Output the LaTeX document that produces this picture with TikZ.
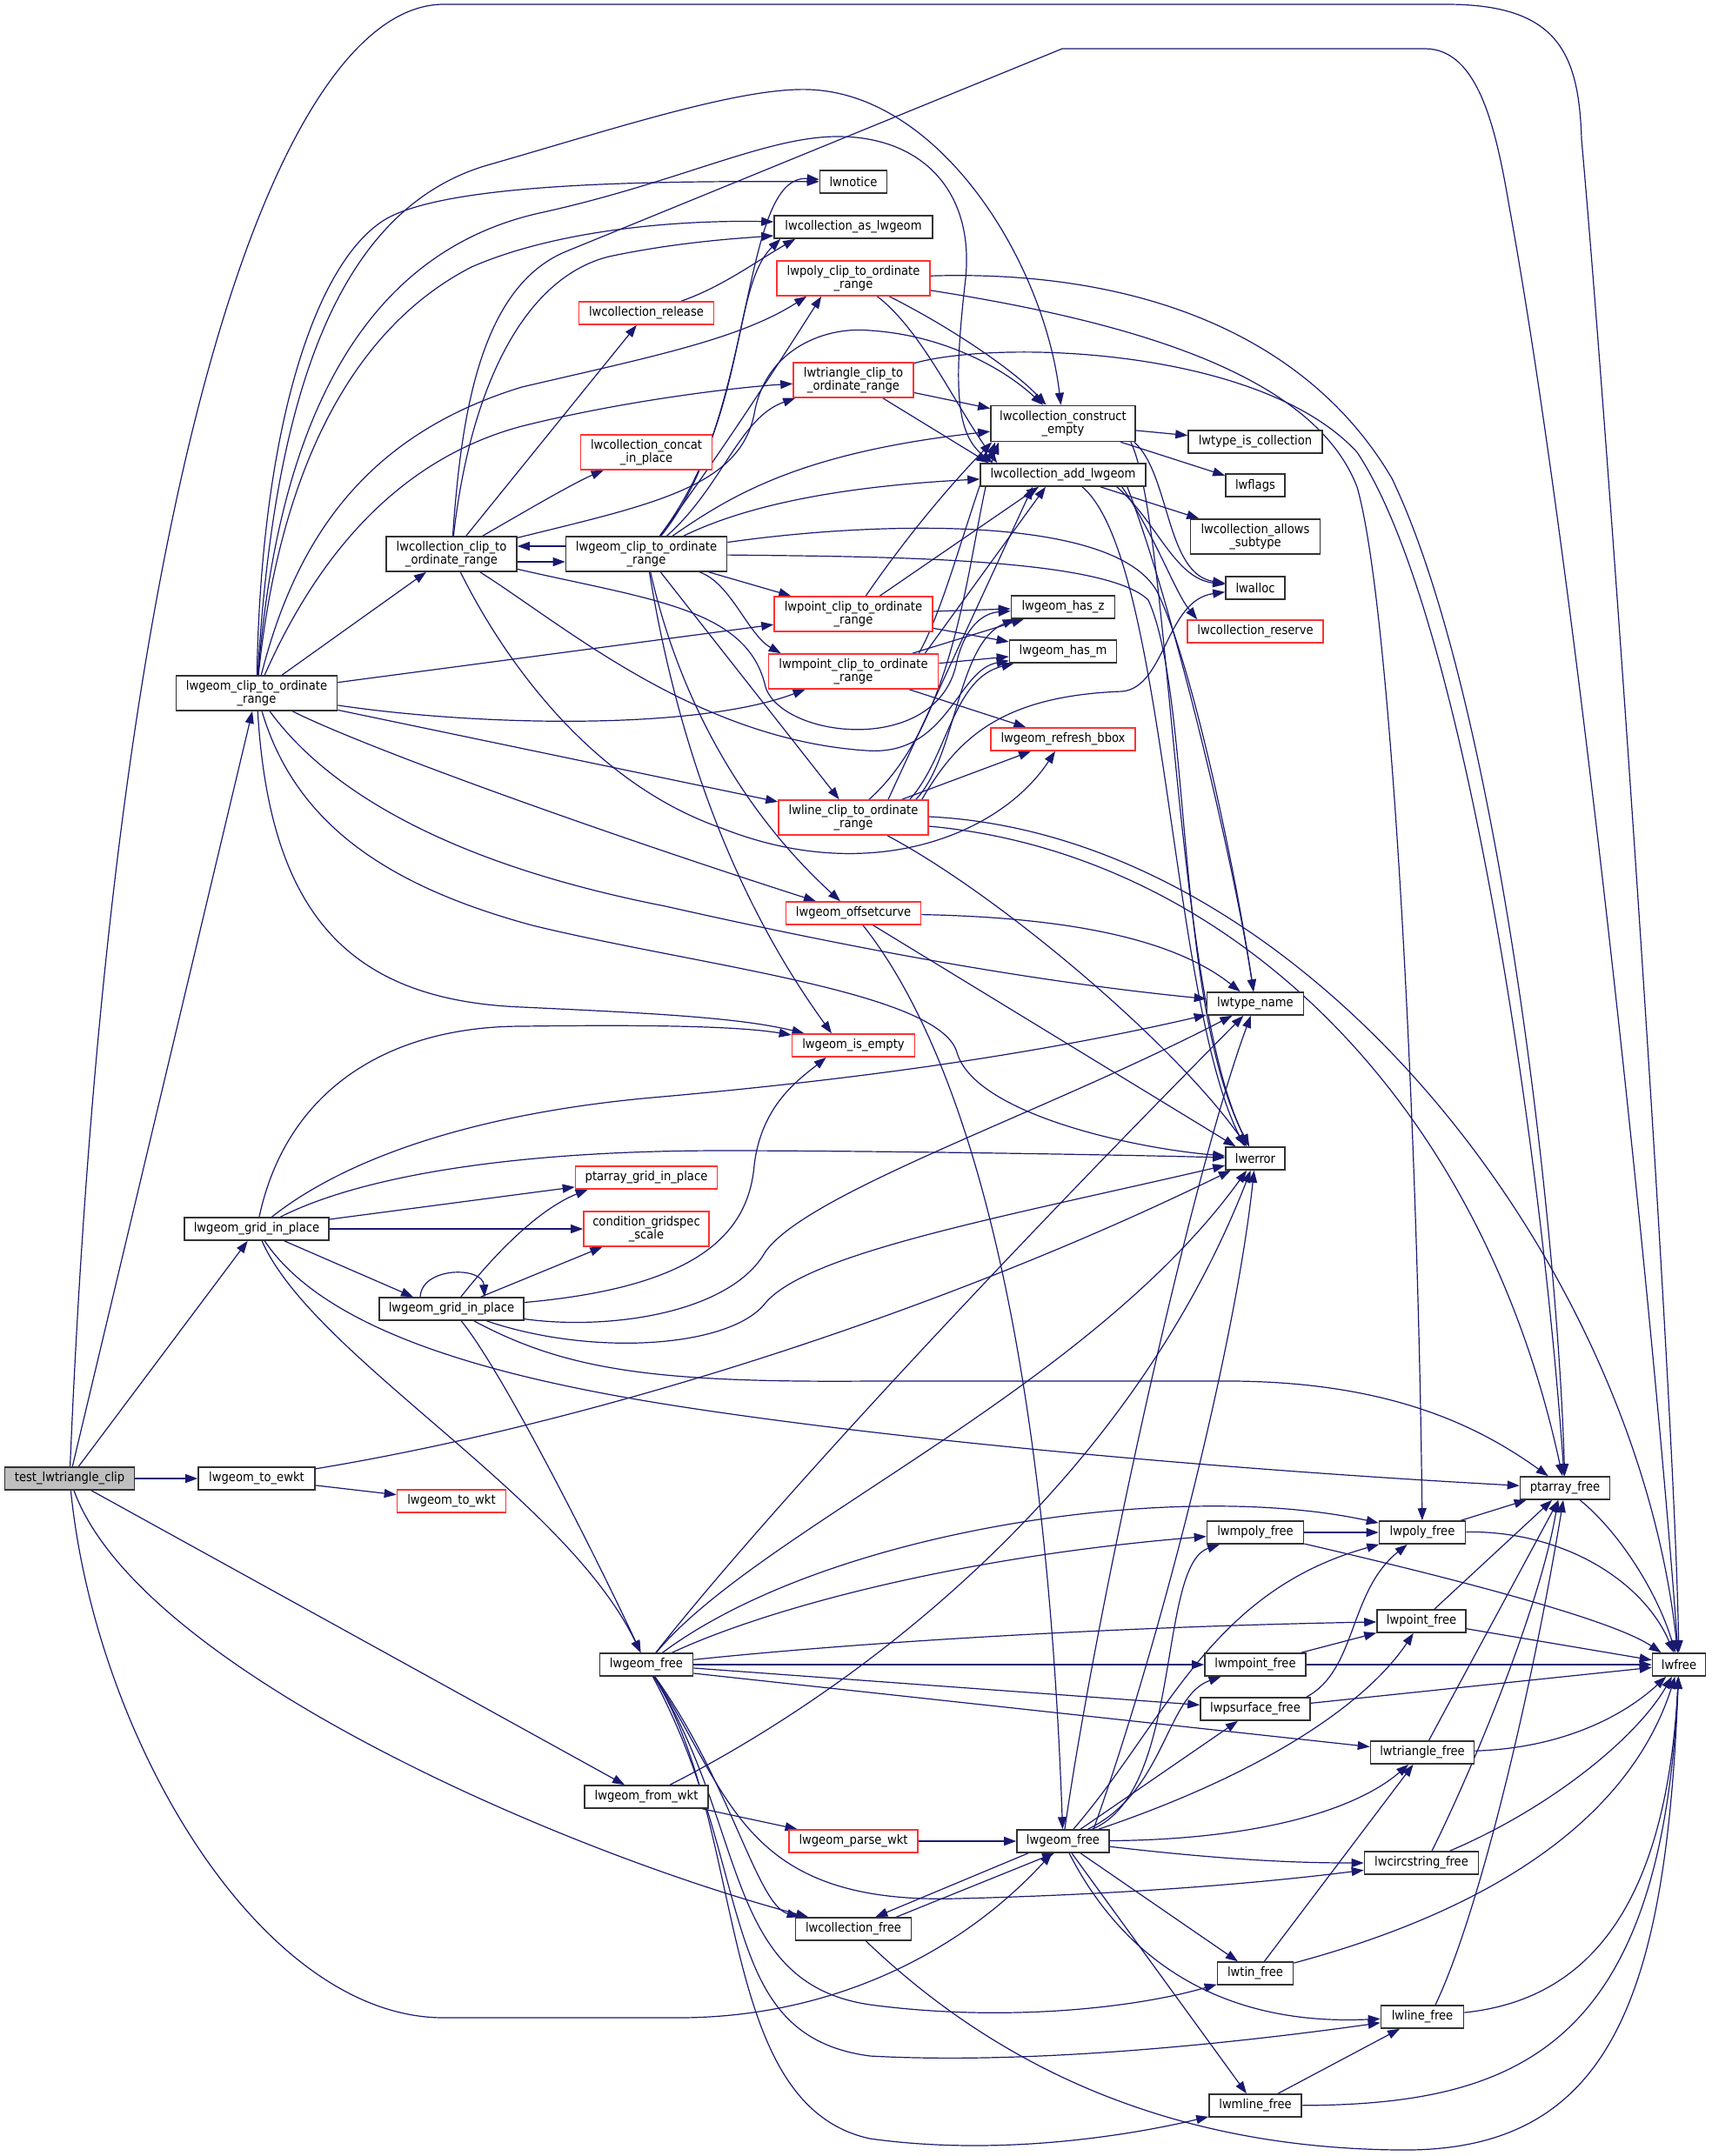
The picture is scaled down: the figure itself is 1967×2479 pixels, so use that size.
\documentclass[tikz,border=0pt]{standalone}
\usepackage{fontspec}
\setmainfont{DejaVu Sans Condensed}
\usetikzlibrary{arrows.meta,calc}
\pgfdeclarelayer{back}
\pgfdeclarelayer{edges}
\pgfsetlayers{back,edges,main}
\definecolor{edgeblue}{RGB}{25,25,112}
\definecolor{nodered}{RGB}{255,50,50}
\definecolor{nodegray}{RGB}{50,50,50}
\definecolor{fillgray}{RGB}{191,191,191}
\begin{document}
\begin{tikzpicture}[x=0.5pt,y=-0.5pt,
  nd/.style={draw=nodegray, line width=0.8pt, rectangle, inner sep=0pt, minimum height=13pt, align=center, font=\fontsize{7.3}{7.3}\selectfont, fill=white, text=black},
  rn/.style={nd, draw=nodered},
  gn/.style={nd, fill=fillgray},
  twol/.style={minimum height=20pt},
  conn/.style={draw=edgeblue, line width=0.6pt, -{Triangle[length=7pt,width=5pt]}}]
\begin{pgfonlayer}{back}
\fill[white] (0,0) rectangle (1967,2479);
\end{pgfonlayer}
\useasboundingbox (0,0) rectangle (1967,2479);

% nodes
\node[gn, minimum width=74.5pt] (test) at (80,1700) {test\_lwtriangle\_clip};
\node[nd, minimum width=67pt] (ewkt) at (295,1700) {lwgeom\_to\_ewkt};
\node[rn, minimum width=62.5pt] (wkt) at (519,1726) {lwgeom\_to\_wkt};
\node[nd, twol, minimum width=92.5pt] (A) at (295,797) {lwgeom\_clip\_to\_ordinate\\\_range};
\node[nd, minimum width=83pt] (D) at (295,1413) {lwgeom\_grid\_in\_place};
\node[nd, twol, minimum width=75pt] (B) at (519,637) {lwcollection\_clip\_to\\\_ordinate\_range};
\node[nd, minimum width=83pt] (E) at (519,1505) {lwgeom\_grid\_in\_place};
\node[nd, twol, minimum width=92.5pt] (C) at (743,637) {lwgeom\_clip\_to\_ordinate\\\_range};
\node[rn, minimum width=77.5pt] (rel) at (743,360) {lwcollection\_release};
\node[rn, twol, minimum width=75.5pt] (concat) at (743,520) {lwcollection\_concat\\\_in\_place};
\node[rn, minimum width=81.5pt] (ptgrid) at (743,1354) {ptarray\_grid\_in\_place};
\node[rn, twol, minimum width=72pt] (cond) at (743,1413) {condition\_gridspec\\\_scale};
\node[nd, minimum width=53.5pt] (F) at (743,1914) {lwgeom\_free};
\node[nd, minimum width=71pt] (fromwkt) at (743,2066) {lwgeom\_from\_wkt};
\node[nd, minimum width=38.5pt] (notice) at (981,209) {lwnotice};
\node[nd, minimum width=91pt] (aslw) at (981,261) {lwcollection\_as\_lwgeom};
\node[rn, twol, minimum width=88pt] (polyclip) at (981,320) {lwpoly\_clip\_to\_ordinate\\\_range};
\node[rn, twol, minimum width=69pt] (triclip) at (981,437) {lwtriangle\_clip\_to\\\_ordinate\_range};
\node[rn, twol, minimum width=91pt] (ptclip) at (981,706) {lwpoint\_clip\_to\_ordinate\\\_range};
\node[rn, twol, minimum width=97.5pt] (mptclip) at (981,772) {lwmpoint\_clip\_to\_ordinate\\\_range};
\node[rn, twol, minimum width=86pt] (lineclip) at (981,940) {lwline\_clip\_to\_ordinate\\\_range};
\node[rn, minimum width=77.5pt] (offc) at (981,1050) {lwgeom\_offsetcurve};
\node[rn, minimum width=70.5pt] (isempty) at (981,1202) {lwgeom\_is\_empty};
\node[rn, minimum width=74pt] (parse) at (981,2117) {lwgeom\_parse\_wkt};
\node[nd, minimum width=66.5pt] (colfree) at (981,2218) {lwcollection\_free};
\node[nd, twol, minimum width=83pt, minimum height=20.5pt] (cempty) at (1222,487) {lwcollection\_construct\\\_empty};
\node[nd, minimum width=95pt] (addg) at (1222,546) {lwcollection\_add\_lwgeom};
\node[nd, minimum width=59.5pt] (hasz) at (1222,698) {lwgeom\_has\_z};
\node[nd, minimum width=61.5pt] (hasm) at (1222,749) {lwgeom\_has\_m};
\node[rn, minimum width=83pt] (bbox) at (1222,850) {lwgeom\_refresh\_bbox};
\node[nd, minimum width=53pt] (G) at (1222,2117) {lwgeom\_free};
\node[nd, minimum width=77pt] (istype) at (1443,508) {lwtype\_is\_collection};
\node[nd, minimum width=34pt] (flags) at (1443,558) {lwflags};
\node[nd, twol, minimum width=74.5pt] (allows) at (1443,617) {lwcollection\_allows\\\_subtype};
\node[nd, minimum width=34pt] (alloc) at (1443,676) {lwalloc};
\node[rn, minimum width=78pt] (reserve) at (1443,726) {lwcollection\_reserve};
\node[nd, minimum width=55.5pt] (tname) at (1443,1154) {lwtype\_name};
\node[nd, minimum width=34pt] (err) at (1443,1332) {lwerror};
\node[nd, minimum width=55.5pt] (mpolyf) at (1443,1762) {lwmpoly\_free};
\node[nd, minimum width=58pt] (mptf) at (1443,1914) {lwmpoint\_free};
\node[nd, minimum width=63pt] (psurf) at (1443,1965) {lwpsurface\_free};
\node[nd, minimum width=43.5pt] (tinf) at (1443,2269) {lwtin\_free};
\node[nd, minimum width=53pt] (mlinef) at (1443,2421) {lwmline\_free};
\node[nd, minimum width=49.5pt] (polyf) at (1635,1762) {lwpoly\_free};
\node[nd, minimum width=51pt] (ptf) at (1634,1864) {lwpoint\_free};
\node[nd, minimum width=59.5pt] (trif) at (1635,2015) {lwtriangle\_free};
\node[nd, minimum width=65.5pt] (circf) at (1634,2142) {lwcircstring\_free};
\node[nd, minimum width=47.5pt] (linef) at (1635,2319) {lwline\_free};
\node[nd, minimum width=51.5pt] (ptaf) at (1799,1711) {ptarray\_free};
\node[nd, minimum width=30.5pt] (lwfree) at (1930,1914) {lwfree};

\begin{pgfonlayer}{edges}
% test
\draw[conn] (test) -- (ewkt);
\draw[conn] (test) -- (A);
\draw[conn] (test) -- (D);
\draw[conn] (test) .. controls (130,500) and (330,5) .. (510,5) -- (1663,5) .. controls (1790,5) and (1815,60) .. (1818,160) .. controls (1850,520) and (1925,1600) .. (lwfree);
\draw[conn] (test) -- (fromwkt);
\draw[conn] (test) .. controls (160,1920) and (650,2130) .. (colfree);
\draw[conn] (test) .. controls (110,2000) and (300,2320) .. (510,2320) -- (780,2320) .. controls (950,2320) and (1100,2250) .. (G);
% ewkt, from_wkt, parse
\draw[conn] (ewkt) -- (wkt);
\draw[conn] (ewkt) .. controls (700,1633) and (1100,1500) .. (err);
\draw[conn] (fromwkt) -- (parse);
\draw[conn] (fromwkt) .. controls (1000,1935) and (1300,1700) .. (err);
\draw[conn] (parse) -- (G);
% A
\draw[conn] (A) -- (B);
\draw[conn] (A) .. controls (300,500) and (360,300) .. (445,251) .. controls (520,210) and (750,208) .. (notice);
\draw[conn] (A) .. controls (320,550) and (400,380) .. (542,307) .. controls (650,260) and (800,253) .. ($(aslw.west)+(0,-6)$);
\draw[conn] (A) .. controls (315,450) and (390,240) .. (560,190) .. controls (700,150) and (850,100) .. (930,103) .. controls (1080,108) and (1200,300) .. (cempty);
\draw[conn] (A) .. controls (320,480) and (420,290) .. (620,245) .. controls (780,210) and (880,157) .. (963,157) .. controls (1060,157) and (1120,220) .. (1110,320) .. controls (1095,450) and (1100,500) .. ($(addg.north west)+(15,0)$);
\draw[conn] (A) .. controls (340,620) and (420,500) .. (600,445) .. controls (750,410) and (850,390) .. ($(polyclip.south west)+(35,0)$);
\draw[conn] (A) .. controls (360,650) and (450,530) .. (600,490) .. controls (720,460) and (850,445) .. (triclip);
\draw[conn] (A) -- (ptclip);
\draw[conn] (A) .. controls (550,835) and (800,840) .. (mptclip);
\draw[conn] (A) -- (lineclip);
\draw[conn] (A) .. controls (420,860) and (700,960) .. (offc);
\draw[conn] (A) .. controls (310,1050) and (400,1150) .. (600,1158) .. controls (750,1165) and (850,1170) .. (isempty);
\draw[conn] (A) .. controls (370,900) and (500,990) .. (765,1042) .. controls (1000,1095) and (1200,1130) .. (tname);
\draw[conn] (A) .. controls (340,950) and (450,1020) .. (612,1064) .. controls (800,1110) and (1080,1140) .. (1100,1210) .. controls (1120,1280) and (1300,1320) .. (err);
% B
\draw[conn] ($(B.east)+(0,9)$) -- ($(C.west)+(0,9)$);
\draw[conn] (B) -- (rel);
\draw[conn] (B) .. controls (600,590) and (660,555) .. (concat);
\draw[conn] (B) .. controls (540,450) and (600,320) .. (700,295) .. controls (780,278) and (850,274) .. ($(aslw.west)+(0,10)$);
\draw[conn] (B) .. controls (530,480) and (551,330) .. (651,289) -- (1221,56) -- (1638,56) .. controls (1700,56) and (1720,150) .. (1735,238) .. controls (1810,650) and (1900,1500) .. (lwfree);
\draw[conn] (B) .. controls (750,580) and (850,560) .. (867,476) .. controls (880,400) and (950,375) .. (1000,380) .. controls (1080,385) and (1150,420) .. (cempty);
\draw[conn] (B) .. controls (750,690) and (860,700) .. (880,790) .. controls (900,850) and (1080,870) .. (1100,760) .. controls (1110,720) and (1130,705) .. (hasz);
\draw[conn] (B) .. controls (650,720) and (800,850) .. (996,863) .. controls (1090,870) and (1100,770) .. (hasm);
\draw[conn] (B) .. controls (580,760) and (680,900) .. (829,952) .. controls (1000,1020) and (1150,960) .. (bbox);
% C
\draw[conn] ($(C.west)+(0,-9)$) -- ($(B.east)+(0,-9)$);
\draw[conn] (C) .. controls (870,480) and (850,200) .. (notice);
\draw[conn] (C) .. controls (860,480) and (840,330) .. ($(aslw.south west)+(8,0)$);
\draw[conn] (C) .. controls (830,520) and (900,410) .. ($(polyclip.south west)+(52,0)$);
\draw[conn] (C) .. controls (830,560) and (850,480) .. ($(triclip.south west)+(3,0)$);
\draw[conn] (C) .. controls (840,570) and (920,520) .. (cempty);
\draw[conn] (C) .. controls (850,585) and (950,560) .. (addg);
\draw[conn] (C) -- (ptclip);
\draw[conn] (C) .. controls (840,670) and (860,730) .. ($(mptclip.north west)+(15,0)$);
\draw[conn] (C) -- (lineclip);
\draw[conn] (C) .. controls (780,800) and (850,930) .. (offc);
\draw[conn] (C) .. controls (770,800) and (820,1000) .. ($(isempty.north)+(-25,0)$);
\draw[conn] (C) .. controls (1000,600) and (1280,590) .. (1330,680) .. controls (1370,760) and (1420,1000) .. (tname);
\draw[conn] (C) .. controls (1000,640) and (1270,640) .. (1320,690) .. controls (1370,800) and (1350,1150) .. (err);
% release
\draw[conn] (rel) .. controls (830,330) and (870,300) .. ($(aslw.south west)+(25,0)$);
% polyclip
\draw[conn] (polyclip) .. controls (1100,380) and (1170,430) .. (cempty);
\draw[conn] (polyclip) .. controls (1060,380) and (1100,470) .. ($(addg.north west)+(20,0)$);
\draw[conn] (polyclip) .. controls (1300,310) and (1500,380) .. (1600,550) .. controls (1720,800) and (1790,1400) .. (ptaf);
\draw[conn] (polyclip) .. controls (1300,370) and (1510,430) .. (1560,560) .. controls (1600,700) and (1630,1300) .. (polyf);
% triclip
\draw[conn] (triclip) -- (cempty);
\draw[conn] (triclip) -- ($(addg.north west)+(10,0)$);
\draw[conn] (triclip) .. controls (1150,390) and (1450,400) .. (1560,520) .. controls (1680,700) and (1770,1300) .. (ptaf);
% ptclip
\draw[conn] (ptclip) -- (hasz);
\draw[conn] (ptclip) -- (hasm);
\draw[conn] (ptclip) .. controls (1040,620) and (1090,560) .. ($(cempty.south west)+(2,0)$);
\draw[conn] (ptclip) -- ($(addg.south)+(-28,0)$);
% mptclip
\draw[conn] (mptclip) -- (hasz);
\draw[conn] (mptclip) -- (hasm);
\draw[conn] (mptclip) -- (bbox);
\draw[conn] ($(mptclip.north east)+(-23,0)$) .. controls (1085,700) and (1110,600) .. ($(cempty.south west)+(6,0)$);
\draw[conn] ($(mptclip.north east)+(-16,0)$) -- ($(addg.south)+(-20,0)$);
% lineclip
\draw[conn] ($(lineclip.north east)+(-15,0)$) .. controls (1100,870) and (1100,740) .. ($(hasz.south west)+(5,0)$);
\draw[conn] ($(lineclip.north east)+(-22,0)$) .. controls (1090,870) and (1095,780) .. (hasm);
\draw[conn] (lineclip) -- (bbox);
\draw[conn] ($(lineclip.north)+(18,0)$) .. controls (1110,820) and (1115,600) .. ($(cempty.south west)+(10,0)$);
\draw[conn] ($(lineclip.north)+(40,0)$) -- ($(addg.south)+(-35,0)$);
\draw[conn] ($(lineclip.north east)+(-8,0)$) .. controls (1100,850) and (1150,800) .. (1290,795) .. controls (1340,790) and (1340,690) .. (alloc);
\draw[conn] (lineclip) .. controls (1150,1030) and (1350,1200) .. (err);
\draw[conn] ($(lineclip.east)+(0,10)$) .. controls (1400,980) and (1700,1250) .. (ptaf);
\draw[conn] ($(lineclip.east)+(0,-1)$) .. controls (1500,960) and (1880,1450) .. (lwfree);
% offsetcurve
\draw[conn] (offc) .. controls (1230,1055) and (1350,1080) .. (tname);
\draw[conn] (offc) -- (err);
\draw[conn] (offc) .. controls (1100,1200) and (1200,1500) .. (G);
% construct_empty
\draw[conn] (cempty) -- (istype);
\draw[conn] (cempty) -- (flags);
\draw[conn] ($(cempty.south east)+(-2,0)$) .. controls (1345,545) and (1340,660) .. (alloc);
\draw[conn] ($(cempty.south east)+(-6,0)$) .. controls (1345,600) and (1350,1150) .. (err);
% add_lwgeom
\draw[conn] (addg) -- (allows);
\draw[conn] ($(addg.south east)+(-28,0)$) .. controls (1330,620) and (1350,680) .. ($(reserve.north west)+(12,0)$);
\draw[conn] ($(addg.south east)+(-34,0)$) .. controls (1330,600) and (1350,665) .. (alloc);
\draw[conn] ($(addg.south)+(22,0)$) .. controls (1340,640) and (1345,1150) .. ($(err.north)+(-12,0)$);
\draw[conn] ($(addg.south east)+(-22,0)$) .. controls (1350,700) and (1420,1000) .. (tname);
% D
\draw[conn] (D) .. controls (330,1250) and (450,1180) .. (600,1180) .. controls (750,1178) and (850,1180) .. (isempty);
\draw[conn] (D) .. controls (400,1330) and (550,1280) .. (750,1262) .. controls (1000,1240) and (1200,1210) .. (tname);
\draw[conn] (D) .. controls (420,1350) and (600,1323) .. (830,1323) .. controls (1000,1323) and (1300,1328) .. (err);
\draw[conn] (D) -- (ptgrid);
\draw[conn] (D) -- (cond);
\draw[conn] (D) -- ($(E.north)+(-44,0)$);
\draw[conn] (D) .. controls (360,1560) and (650,1720) .. (F);
\draw[conn] (D) .. controls (380,1540) and (600,1590) .. (800,1620) .. controls (1100,1665) and (1500,1695) .. (ptaf);
% E
\draw[conn] ($(E.north)+(-36,0)$) .. controls (485,1456) and (555,1456) .. ($(E.north)+(38,0)$);
\draw[conn] (E) .. controls (570,1440) and (620,1390) .. ($(ptgrid.south west)+(15,0)$);
\draw[conn] (E) -- (cond);
\draw[conn] (E) .. controls (800,1480) and (860,1420) .. (867,1340) .. controls (875,1270) and (920,1240) .. ($(isempty.south west)+(40,0)$);
\draw[conn] (E) .. controls (700,1530) and (840,1510) .. (880,1439) .. controls (930,1370) and (1200,1280) .. (tname);
\draw[conn] (E) .. controls (680,1560) and (840,1550) .. (880,1498) .. controls (930,1440) and (1150,1400) .. (err);
\draw[conn] (E) .. controls (650,1575) and (750,1590) .. (1000,1588) -- (1420,1588) .. controls (1600,1590) and (1700,1640) .. (ptaf);
\draw[conn] (E) .. controls (580,1580) and (690,1800) .. (F);
% F
\draw[conn] (F) .. controls (880,1740) and (1150,1450) .. (tname);
\draw[conn] (F) .. controls (870,1760) and (1250,1600) .. (err);
\draw[conn] (F) .. controls (880,1850) and (1100,1790) .. (mpolyf);
\draw[conn] (F) .. controls (950,1760) and (1350,1700) .. (polyf);
\draw[conn] (F) .. controls (1000,1887) and (1300,1870) .. (ptf);
\draw[conn] (F) -- (mptf);
\draw[conn] (F) -- (psurf);
\draw[conn] ($(F.east)+(0,10)$) -- (trif);
\draw[conn] (F) .. controls (840,2060) and (850,2190) .. (1100,2183) .. controls (1300,2178) and (1450,2165) .. (circf);
\draw[conn] (F) .. controls (840,2050) and (870,2190) .. ($(colfree.north west)+(5,0)$);
\draw[conn] (F) .. controls (860,2100) and (830,2280) .. (1000,2305) .. controls (1150,2325) and (1300,2310) .. (tinf);
\draw[conn] (F) .. controls (870,2150) and (820,2340) .. (1000,2364) .. controls (1200,2375) and (1450,2345) .. (linef);
\draw[conn] (F) .. controls (860,2100) and (820,2420) .. (1000,2459) .. controls (1150,2480) and (1300,2455) .. (mlinef);
% G
\draw[conn] (G) .. controls (1260,1850) and (1370,1350) .. (tname);
\draw[conn] ($(G.north)+(35,0)$) .. controls (1330,1900) and (1420,1550) .. (err);
\draw[conn] (G) .. controls (1360,2060) and (1330,1800) .. (mpolyf);
\draw[conn] (G) .. controls (1340,1980) and (1390,1830) .. (polyf);
\draw[conn] (G) .. controls (1450,2040) and (1570,1960) .. (ptf);
\draw[conn] (G) .. controls (1340,2060) and (1340,1950) .. (mptf);
\draw[conn] (G) -- (psurf);
\draw[conn] (G) .. controls (1450,2115) and (1560,2080) .. (trif);
\draw[conn] (G) .. controls (1420,2140) and (1500,2142) .. (circf);
\draw[conn] ($(G.south)+(-40,0)$) -- ($(colfree.north east)+(-42,0)$);
\draw[conn] ($(colfree.north east)+(-18,0)$) -- ($(G.south)+(-10,0)$);
\draw[conn] (G) -- (tinf);
\draw[conn] (G) .. controls (1290,2250) and (1400,2330) .. (linef);
\draw[conn] (G) -- (mlinef);
% collection free
\draw[conn] (colfree) .. controls (1150,2380) and (1350,2470) .. (1609,2472) .. controls (1850,2475) and (1915,2300) .. (lwfree);
% free functions
\draw[conn] (mpolyf) -- (polyf);
\draw[conn] (mpolyf) .. controls (1650,1810) and (1850,1860) .. (lwfree);
\draw[conn] (polyf) -- (ptaf);
\draw[conn] (polyf) .. controls (1800,1760) and (1890,1820) .. (lwfree);
\draw[conn] (ptf) -- (ptaf);
\draw[conn] (ptf) -- (lwfree);
\draw[conn] (mptf) -- (ptf);
\draw[conn] (mptf) -- (lwfree);
\draw[conn] ($(psurf.north east)+(-5,0)$) .. controls (1560,1920) and (1550,1830) .. (polyf);
\draw[conn] (psurf) -- (lwfree);
\draw[conn] (trif) -- (ptaf);
\draw[conn] (trif) .. controls (1800,2010) and (1870,1970) .. (lwfree);
\draw[conn] ($(circf.north)+(12,0)$) .. controls (1690,2040) and (1770,1850) .. ($(ptaf.south)+(-8,0)$);
\draw[conn] (circf) .. controls (1780,2080) and (1880,2000) .. (lwfree);
\draw[conn] (tinf) -- (trif);
\draw[conn] (tinf) .. controls (1700,2200) and (1870,2100) .. (lwfree);
\draw[conn] ($(linef.north)+(15,0)$) .. controls (1700,2200) and (1760,1950) .. ($(ptaf.south)+(-2,0)$);
\draw[conn] (linef) .. controls (1820,2300) and (1915,2200) .. (lwfree);
\draw[conn] (mlinef) -- (linef);
\draw[conn] (mlinef) .. controls (1750,2420) and (1910,2350) .. (lwfree);
\draw[conn] (ptaf) .. controls (1860,1760) and (1905,1830) .. (lwfree);
\end{pgfonlayer}
\end{tikzpicture}
\end{document}
